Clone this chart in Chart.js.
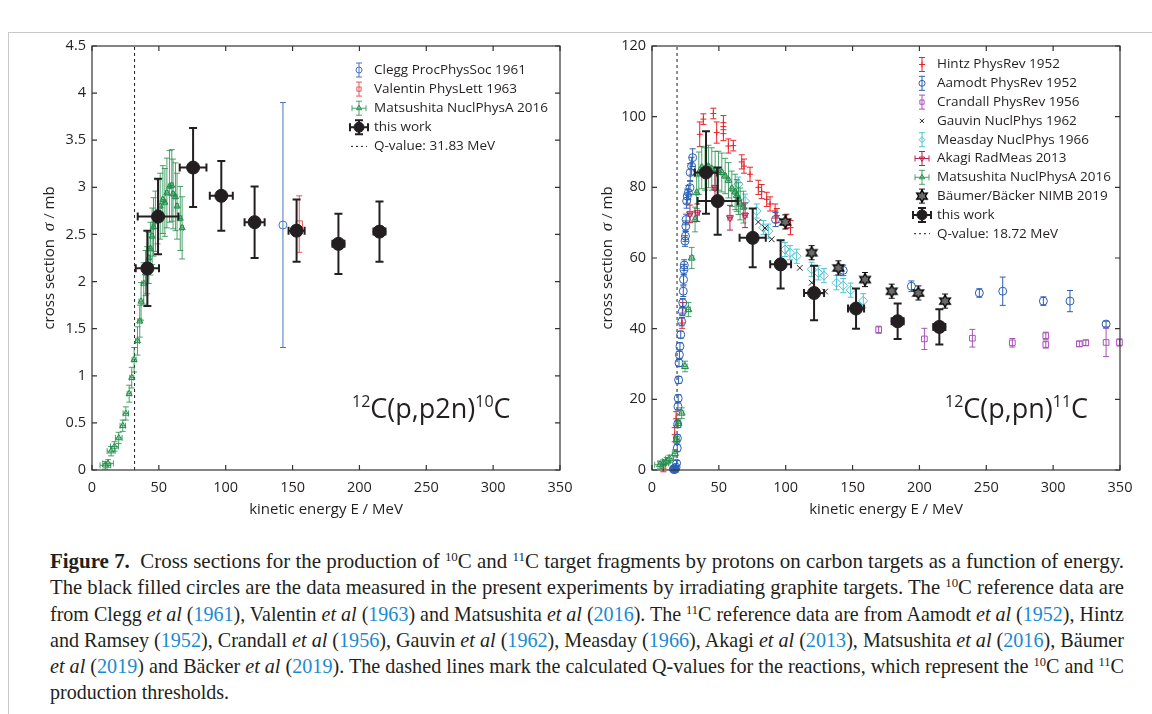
<!DOCTYPE html>
<html>
<head>
<meta charset="utf-8">
<script src="https://cdn.jsdelivr.net/npm/chart.js@4.4.0/dist/chart.umd.min.js"></script>
<style>
  body { margin: 0; background: #fff; width: 1152px; height: 714px; overflow: hidden; position: relative; }
  #frame { position: absolute; left: 8px; top: 32px; width: 1300px; height: 900px; border-top: 1px solid #c9c9c9; border-left: 1px solid #c9c9c9; }
  #c1 { position: absolute; left: 0; top: 0; }
  #c2 { position: absolute; left: 590px; top: 0; }
  #cap { position: absolute; left: 50px; top: 548px; width: 1200px; font-family: "Liberation Serif", serif; font-size: 21px; line-height: 26.3px; color: #231f20; }
  #cap div { white-space: nowrap; height: 26.3px; }
  #cap span.ln { display: inline-block; transform-origin: 0 50%; }
  #cap sup { font-size: 13px; vertical-align: 7px; line-height: 0; }
  #cap .y { color: #1a8ad0; }
</style>
</head>
<body>
<div id="frame"></div>
<canvas id="c1" width="590" height="530"></canvas>
<canvas id="c2" width="562" height="530"></canvas>
<div id="cap">
  <div><span class="ln"><b>Figure 7.</b>&nbsp; Cross sections for the production of <sup>10</sup>C and <sup>11</sup>C target fragments by protons on carbon targets as a function of energy.</span></div>
  <div><span class="ln">The black filled circles are the data measured in the present experiments by irradiating graphite targets. The <sup>10</sup>C reference data are</span></div>
  <div><span class="ln">from Clegg <i>et al</i> (<span class="y">1961</span>), Valentin <i>et al</i> (<span class="y">1963</span>) and Matsushita <i>et al</i> (<span class="y">2016</span>). The <sup>11</sup>C reference data are from Aamodt <i>et al</i> (<span class="y">1952</span>), Hintz</span></div>
  <div><span class="ln">and Ramsey (<span class="y">1952</span>), Crandall <i>et al</i> (<span class="y">1956</span>), Gauvin <i>et al</i> (<span class="y">1962</span>), Measday (<span class="y">1966</span>), Akagi <i>et al</i> (<span class="y">2013</span>), Matsushita <i>et al</i> (<span class="y">2016</span>), Bäumer</span></div>
  <div><span class="ln"><i>et al</i> (<span class="y">2019</span>) and Bäcker <i>et al</i> (<span class="y">2019</span>). The dashed lines mark the calculated Q-values for the reactions, which represent the <sup>10</sup>C and <sup>11</sup>C</span></div>
  <div><span class="ln last">production thresholds.</span></div>
</div>
<script>
// ---- 12C(p,p2n)10C ----
const cleggE = [142.8], cleggS = [2.60], cleggErr = [1.30];
const valentinE = [155], valentinS = [2.61], valentinErr = [0.30];
const mat10E = [10, 12, 14.3, 16.8, 20, 23, 25.3, 27.8, 29.7, 31.5, 34, 35.7, 36.7, 38.7, 40, 41.2, 42.5, 43.7, 45, 46, 47.4, 49, 51, 53, 54.5, 56, 58, 59.7, 60.6, 62.4, 63.6, 66, 67.4];
const mat10S = [0.05, 0.07, 0.20, 0.25, 0.34, 0.47, 0.60, 0.81, 0.98, 1.17, 1.37, 1.58, 1.79, 1.98, 2.09, 2.12, 2.25, 2.35, 2.48, 2.58, 2.64, 2.74, 2.80, 2.87, 2.84, 2.94, 3.01, 3.02, 2.93, 2.90, 2.80, 2.67, 2.57];
const mat10Err = [0.04, 0.04, 0.05, 0.05, 0.06, 0.06, 0.07, 0.09, 0.11, 0.13, 0.15, 0.17, 0.2, 0.22, 0.24, 0.25, 0.27, 0.28, 0.3, 0.31, 0.32, 0.34, 0.35, 0.36, 0.36, 0.37, 0.38, 0.38, 0.37, 0.36, 0.35, 0.34, 0.33];
const mat10XErr = [4, 4, 3, 3, 2.5, 2, 2, 1.5, 1.5, 1.5, 1.5, 1.5, 1.5, 1.5, 1, 1, 1, 1, 1, 1, 1, 1, 1, 1, 1, 1, 1, 1, 1, 1, 1, 1, 1];
const work10E = [41.4, 49.4, 75.6, 96.7, 121.6, 153, 184.3, 215];
const work10S = [2.14, 2.69, 3.21, 2.91, 2.63, 2.54, 2.40, 2.53];
const work10Err = [0.40, 0.40, 0.42, 0.37, 0.38, 0.33, 0.32, 0.32];
const work10XErr = [8.7, 15.2, 10, 8.6, 7.5, 6, 4.5, 4.5];
const q10 = 31.83;

// ---- 12C(p,pn)11C ----
const hintzE = [8.5, 17, 18, 22.5, 23, 35.7, 38.4, 45.9, 48.4, 53.4, 53.4, 57.1, 60.8, 67.1, 68.8, 73.3, 79.5, 82, 85.8, 88.3, 92.1, 93.4, 100.6, 103.6];
const hintzS = [0.5, 10, 14.5, 41.6, 45.9, 95, 99.3, 100.9, 95.5, 98.3, 95.2, 91.7, 91.8, 87.2, 86, 83.7, 80, 78.8, 76.6, 75.3, 73.3, 72, 70.4, 68.6];
const hintzErr = [1, 2, 2, 1.5, 1.5, 3.5, 1.5, 1.5, 3, 2, 2, 2, 1.5, 2, 2, 2, 2, 2, 2, 2, 2, 2, 2, 2];
const aamodtE = [16, 16.5, 17, 17.5, 18, 18.4, 18.9, 19, 19.2, 19.4, 19.6, 19.9, 20.2, 20.5, 20.9, 21.5, 22.2, 22.7, 23, 23.4, 23.6, 23.9, 24.1, 24.7, 25, 25.3, 25.5, 25.9, 26.4, 27.2, 28.4, 28.6, 29.6, 30.4, 92.4, 143, 194, 244.8, 262.3, 292.7, 312.6, 339.6];
const aamodtS = [0.3, 0.1, 0.5, 0.2, 0.8, 1.9, 6.2, 9, 13, 18, 20.3, 25.5, 30.3, 32.6, 35, 38.3, 42, 44.9, 47.3, 50.6, 53.9, 56.7, 58, 64.8, 66.2, 69, 70.9, 76.1, 77.5, 78.5, 79.9, 84.2, 86, 88.4, 70.9, 56.5, 52, 50.1, 50.6, 47.8, 47.8, 41.3];
const aamodtErr = [0.5, 0.5, 0.5, 0.5, 0.5, 0.8, 1, 1, 1, 1, 1, 1, 1, 1, 1, 1, 1.2, 1.2, 1.2, 1.5, 1.5, 1.5, 1.5, 1.5, 1.5, 1.5, 1.5, 2, 2, 2, 2, 2.5, 2.5, 2.5, 2, 1.5, 1.5, 1.2, 4, 1.2, 3, 0.8];
const crandallE = [169.5, 203.7, 239.6, 269.5, 294.5, 294.5, 319.6, 324.4, 339.6, 349.6];
const crandallS = [39.7, 37.1, 37.3, 36, 38, 35.5, 35.7, 36, 36.1, 36.1];
const crandallErr = [1, 3, 2.5, 1.2, 1, 1, 0.8, 0.8, 4, 1];
const gauvinE = [79.5, 84.5, 89.5, 110.5, 119.5, 129.5];
const gauvinS = [70.2, 68.5, 65.3, 57.2, 53, 50.5];
const measdayE = [64.6, 69.6, 78.3, 83.3, 87, 99.5, 103.2, 108.2, 119.4, 124.4, 128.6, 138, 143, 148.6, 158];
const measdayS = [80.9, 76.1, 73.3, 68.6, 67.6, 62.4, 61.5, 60.5, 56.8, 55.8, 55, 53, 52.2, 50.9, 47.9];
const measdayErr = [2, 2, 2, 2, 2, 2, 2, 2, 2, 2, 2, 2, 2, 2, 2];
const akagiE = [28.4, 33.9, 47.1, 58.3, 69.6];
const akagiS = [72.5, 72.8, 79.9, 71.4, 72.1];
const akagiErr = [2.5, 2.5, 4, 3.5, 3.5];
const akagiXErr = [1.5, 1.5, 1.5, 1.5, 1.5];
const mat11E = [6, 8.5, 11, 13, 17.2, 18.4, 19.7, 22.2, 24.7, 27.2, 29.7, 32.2, 33.4, 35, 37.2, 39.7, 42.2, 44.7, 47.2, 49.7, 52.2, 54.7, 57.2, 59.7, 62.2, 63.4, 64.7, 65.9, 68.4];
const mat11S = [1.5, 1.9, 2.5, 3.2, 4.7, 8.5, 13.2, 16.1, 29.3, 45.4, 60, 70.9, 78.5, 84, 85.6, 85.2, 85.9, 85.2, 84.7, 84.7, 84.2, 83.2, 82, 79.6, 78.7, 77.7, 76.8, 75.3, 74.4];
const mat11Err = [1, 1, 1, 1, 1, 1, 1.2, 1.5, 1.5, 2, 3, 3.5, 4.5, 6, 6, 6, 6, 6, 5.5, 5.5, 5.5, 5, 5, 5, 5, 4.5, 4.5, 4.5, 4.5];
const mat11XErr = [4, 4, 3, 3, 2, 2, 1.5, 1.5, 1.5, 1.5, 1.5, 1, 1, 1, 1, 1, 1, 1, 1, 1, 1, 1, 1, 1, 1, 1, 1, 1, 1];
const baumerE = [99.7, 119.4, 139.4, 159.3, 179.3, 199.2, 219.2];
const baumerS = [70.2, 61.5, 57.2, 53.9, 50.6, 50.1, 47.8];
const baumerErr = [2, 2, 2, 2, 2, 2, 2];
const work11E = [40.4, 49.1, 75.3, 96.2, 121.2, 152.6, 183.7, 214.9];
const work11S = [84.2, 76.1, 65.7, 58.2, 50.1, 45.7, 42.1, 40.5];
const work11Err = [11.7, 9.5, 8.3, 6.8, 7.7, 5.7, 5, 5];
const work11XErr = [8.3, 15, 9.8, 7.8, 7.5, 6, 4.5, 4.5];
const q11 = 18.72;

const ink = '#231f20';
Chart.defaults.font.family = '"Open Sans", sans-serif';
Chart.defaults.color = ink;

// caption lines: squeeze each one to the justified width of the reference
const capWidth = 1074;
const lines = [...document.querySelectorAll('#cap span.ln')];
const scales = lines.map(s => capWidth / s.getBoundingClientRect().width);
lines.forEach((s, i) => {
  const k = s.classList.contains('last') ? Math.min(...scales.slice(0, -1)) : scales[i];
  s.style.transform = 'scaleX(' + k + ')';
});

// hexagram marker for the NIMB 2019 points
const star = document.createElement('canvas');
star.width = 14; star.height = 14;
(function () {
  const c = star.getContext('2d');
  c.beginPath();
  for (let i = 0; i < 12; i++) {
    const r = i % 2 ? 3.4 : 6.2, a = i * Math.PI / 6;
    c.lineTo(7 + r * Math.sin(a), 7 - r * Math.cos(a));
  }
  c.closePath();
  c.fillStyle = '#6a6a6a'; c.fill();
  c.strokeStyle = '#000'; c.lineWidth = 1.3; c.stroke();
})();

function pts(E, S, ey, ex) {
  return E.map((e, i) => ({x: e, y: S[i], ey: ey ? ey[i] : 0, ex: ex ? ex[i] : 0}));
}

function series(label, E, S, ey, ex, color, style, radius, extra) {
  return Object.assign({
    label: label,
    data: pts(E, S, ey, ex),
    pointStyle: style,
    pointRadius: radius,
    pointHoverRadius: radius,
    pointBorderColor: color,
    pointBackgroundColor: 'rgba(0,0,0,0)',
    pointBorderWidth: 1,
    clip: 10,
    bar: {color: color, width: 1, cap: 3},
    legX: !!ex
  }, extra || {});
}

function qLine(q, yMax, label) {
  return {
    label: label,
    data: [{x: q, y: 0}, {x: q, y: yMax}],
    showLine: true,
    borderColor: ink,
    borderWidth: 1,
    borderDash: [3, 3],
    pointRadius: 0,
    qline: true
  };
}

// error bars, drawn under each dataset's markers
const errorBars = {
  id: 'errorBars',
  beforeDatasetDraw(chart, args) {
    const ds = chart.data.datasets[args.index];
    if (!ds.bar) return;
    const ctx = chart.ctx, xs = chart.scales.x, ys = chart.scales.y, b = ds.bar;
    ctx.save();
    ctx.strokeStyle = b.color;
    ctx.lineWidth = b.width;
    ctx.beginPath();
    ds.data.forEach(p => {
      const px = xs.getPixelForValue(p.x), py = ys.getPixelForValue(p.y);
      if (p.ey) {
        const t = ys.getPixelForValue(p.y + p.ey), u = ys.getPixelForValue(p.y - p.ey);
        ctx.moveTo(px, t); ctx.lineTo(px, u);
        ctx.moveTo(px - b.cap, t); ctx.lineTo(px + b.cap, t);
        ctx.moveTo(px - b.cap, u); ctx.lineTo(px + b.cap, u);
      }
      if (p.ex) {
        const l = xs.getPixelForValue(p.x - p.ex), r = xs.getPixelForValue(p.x + p.ex);
        ctx.moveTo(l, py); ctx.lineTo(r, py);
        ctx.moveTo(l, py - b.cap); ctx.lineTo(l, py + b.cap);
        ctx.moveTo(r, py - b.cap); ctx.lineTo(r, py + b.cap);
      }
    });
    ctx.stroke();
    ctx.restore();
  }
};
Chart.register(errorBars);

function drawMarker(ctx, ds, x, y) {
  const st = ds.pointStyle;
  if (st instanceof HTMLCanvasElement) {
    ctx.drawImage(st, x - st.width / 2, y - st.height / 2);
    return;
  }
  ctx.save();
  ctx.strokeStyle = ds.pointBorderColor;
  ctx.fillStyle = ds.pointBackgroundColor;
  ctx.lineWidth = ds.pointBorderWidth;
  Chart.helpers.drawPoint(ctx, {pointStyle: st, radius: ds.pointRadius, rotation: ds.pointRotation || 0, borderWidth: ds.pointBorderWidth}, x, y);
  ctx.restore();
}

function deco(cfg) {
  return {
    id: 'deco',
    afterDraw(chart) {
      const {ctx, chartArea: a, scales: {x, y}} = chart;
      ctx.save();
      // box and inward ticks
      ctx.strokeStyle = '#333';
      ctx.lineWidth = 1.2;
      ctx.strokeRect(a.left, a.top, a.right - a.left, a.bottom - a.top);
      ctx.beginPath();
      x.ticks.forEach(t => {
        const px = x.getPixelForValue(t.value);
        ctx.moveTo(px, a.bottom); ctx.lineTo(px, a.bottom - 5);
        ctx.moveTo(px, a.top); ctx.lineTo(px, a.top + 5);
      });
      y.ticks.forEach(t => {
        const py = y.getPixelForValue(t.value);
        ctx.moveTo(a.left, py); ctx.lineTo(a.left + 5, py);
        ctx.moveTo(a.right, py); ctx.lineTo(a.right - 5, py);
      });
      ctx.stroke();

      // y title with italic sigma
      ctx.save();
      ctx.translate(cfg.yTitleX, (a.top + a.bottom) / 2);
      ctx.rotate(-Math.PI / 2);
      ctx.fillStyle = ink;
      ctx.textBaseline = 'middle';
      const parts = [['cross section  ', '15px "Open Sans"'], ['σ', 'italic 17px "Liberation Serif"'], [' / mb', '15px "Open Sans"']];
      let w = 0;
      parts.forEach(p => { ctx.font = p[1]; w += ctx.measureText(p[0]).width; });
      let cx = -w / 2;
      parts.forEach(p => { ctx.font = p[1]; ctx.fillText(p[0], cx, 0); cx += ctx.measureText(p[0]).width; });
      ctx.restore();

      // legend
      const sets = chart.data.datasets;
      ctx.font = '13.5px "Open Sans"';
      ctx.textBaseline = 'middle';
      cfg.legend.forEach((idx, k) => {
        const ds = sets[idx], ly = cfg.ly + k * cfg.dy, lx = cfg.lx;
        if (ds.qline) {
          ctx.save();
          ctx.strokeStyle = ink; ctx.lineWidth = 1; ctx.setLineDash([2, 3]);
          ctx.beginPath(); ctx.moveTo(lx - 8, ly); ctx.lineTo(lx + 8, ly); ctx.stroke();
          ctx.restore();
        } else {
          const b = ds.bar;
          if (b) {
            ctx.save();
            ctx.strokeStyle = b.color; ctx.lineWidth = b.width;
            ctx.beginPath();
            const h = 7, cp = b.cap;
            ctx.moveTo(lx, ly - h); ctx.lineTo(lx, ly + h);
            ctx.moveTo(lx - cp, ly - h); ctx.lineTo(lx + cp, ly - h);
            ctx.moveTo(lx - cp, ly + h); ctx.lineTo(lx + cp, ly + h);
            if (ds.legX) {
              const hw = ds.bar.width > 1 ? 9 : 7;
              ctx.moveTo(lx - hw, ly); ctx.lineTo(lx + hw, ly);
              ctx.moveTo(lx - hw, ly - cp); ctx.lineTo(lx - hw, ly + cp);
              ctx.moveTo(lx + hw, ly - cp); ctx.lineTo(lx + hw, ly + cp);
            }
            ctx.stroke();
            ctx.restore();
          }
          const r = ds.pointRadius;
          drawMarker(ctx, Object.assign({}, ds, {pointRadius: Math.min(r, ds.bar && ds.bar.width > 1 ? 5 : 3)}), lx, ly);
        }
        ctx.fillStyle = ink;
        ctx.fillText(ds.label, cfg.tx, ly);
      });

      // reaction label with superscripts
      let rx = cfg.rx;
      ctx.textBaseline = 'alphabetic';
      cfg.reaction.forEach(p => {
        ctx.font = p[1] ? '16px "Open Sans"' : '27px "Open Sans"';
        ctx.fillText(p[0], rx, cfg.ry - (p[1] ? 11 : 0));
        rx += ctx.measureText(p[0]).width;
      });
      ctx.restore();
    }
  };
}

function options(yMax, yStep, yAxisW, padRight) {
  return {
    responsive: false,
    devicePixelRatio: 1,
    animation: false,
    layout: {padding: {left: 0, top: 46, right: padRight, bottom: 0}},
    plugins: {legend: {display: false}, tooltip: {enabled: false}},
    scales: {
      x: {
        type: 'linear', min: 0, max: 350,
        grid: {display: false, drawTicks: false},
        border: {display: false},
        ticks: {stepSize: 50, padding: 9, font: {size: 14.5}, color: ink},
        title: {display: true, text: 'kinetic energy E / MeV', font: {size: 15}, color: ink, padding: {top: 0, bottom: 11}},
        afterFit: s => { s.height = 60; }
      },
      y: {
        type: 'linear', min: 0, max: yMax,
        grid: {display: false, drawTicks: false},
        border: {display: false},
        ticks: {stepSize: yStep, padding: 6, font: {size: 14.5}, color: ink,
          callback: v => String(Math.round(v * 10) / 10)},
        afterFit: s => { s.width = yAxisW; }
      }
    }
  };
}

const big = {pointBackgroundColor: ink, pointBorderColor: ink, bar: {color: ink, width: 2, cap: 4}};
const greenBar = c => ({bar: {color: c, width: 1, cap: 3}});

// left panel
const left = [
  qLine(q10, 4.5, 'Q-value: 31.83 MeV'),
  series('Matsushita NuclPhysA 2016', mat10E, mat10S, mat10Err, mat10XErr, '#1f8f4a', 'triangle', 3.5, greenBar('rgba(30,140,70,0.8)')),
  series('Valentin PhysLett 1963', valentinE, valentinS, valentinErr, null, '#e8585b', 'rect', 4.5),
  series('Clegg ProcPhysSoc 1961', cleggE, cleggS, cleggErr, null, '#4676c4', 'circle', 4),
  series('this work', work10E, work10S, work10Err, work10XErr, ink, 'circle', 6.5, big)
];
left.forEach((d, i) => { d.order = left.length - i; });
new Chart(document.getElementById('c1'), {
  type: 'scatter',
  data: {datasets: left},
  options: options(4.5, 0.5, 92, 30),
  plugins: [deco({
    yTitleX: 50, lx: 359, tx: 374, ly: 70, dy: 19.1,
    legend: [3, 2, 1, 4, 0],
    rx: 352, ry: 418,
    reaction: [['12', 1], ['C(p,p2n)', 0], ['10', 1], ['C', 0]]
  })]
});

// right panel
const right = [
  qLine(q11, 120, 'Q-value: 18.72 MeV'),
  series('Crandall PhysRev 1956', crandallE, crandallS, crandallErr, null, '#a852b8', 'rect', 4),
  series('Hintz PhysRev 1952', hintzE, hintzS, hintzErr, null, '#e8242a', 'cross', 3),
  series('Aamodt PhysRev 1952', aamodtE, aamodtS, aamodtErr, null, '#2b5fb4', 'circle', 4),
  series('Measday NuclPhys 1966', measdayE, measdayS, measdayErr, null, '#4fc3d6', 'rectRot', 4.5),
  series('Gauvin NuclPhys 1962', gauvinE, gauvinS, null, null, '#222', 'crossRot', 4, {bar: null}),
  series('Matsushita NuclPhysA 2016', mat11E, mat11S, mat11Err, mat11XErr, '#1f8f4a', 'triangle', 4, greenBar('rgba(30,140,70,0.8)')),
  series('Akagi RadMeas 2013', akagiE, akagiS, akagiErr, akagiXErr, '#b8224e', 'triangle', 4, {pointRotation: 180}),
  series('Bäumer/Bäcker NIMB 2019', baumerE, baumerS, baumerErr, null, '#111', star, 6),
  series('this work', work11E, work11S, work11Err, work11XErr, ink, 'circle', 6.5, big)
];
right.forEach((d, i) => { d.order = right.length - i; });
new Chart(document.getElementById('c2'), {
  type: 'scatter',
  data: {datasets: right},
  options: options(120, 20, 62, 32),
  plugins: [deco({
    yTitleX: 18, lx: 332, tx: 347, ly: 64.5, dy: 18.8,
    legend: [2, 3, 1, 5, 4, 7, 6, 8, 9, 0],
    rx: 355, ry: 418,
    reaction: [['12', 1], ['C(p,pn)', 0], ['11', 1], ['C', 0]]
  })]
});
</script>
</body>
</html>
